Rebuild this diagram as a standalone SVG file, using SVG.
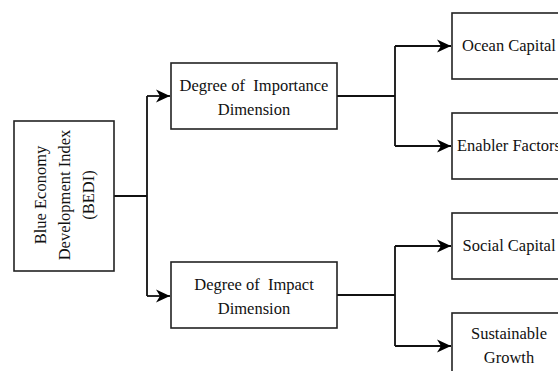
<svg xmlns="http://www.w3.org/2000/svg" width="558" height="371" viewBox="0 0 558 371">
<style>
.box{fill:#fff;stroke:#222;stroke-width:1.6}
.t{font-family:"Liberation Serif","Times New Roman",serif;font-size:16.5px;fill:#111;text-anchor:middle;white-space:pre}
.c{fill:none;stroke:#111;stroke-width:1.8}
</style>
<defs>
<marker id="ah" markerUnits="userSpaceOnUse" markerWidth="15" markerHeight="15" refX="14" refY="7.5" orient="auto">
<path d="M0,1 L14,7.5 L0,14 L4,7.5 z" fill="#000"/>
</marker>
</defs>
<g id="connectors">
<path class="c" d="M114,196 H147 M147,96 V296"/>
<path class="c" d="M147,96 H170" marker-end="url(#ah)"/>
<path class="c" d="M147,296 H170" marker-end="url(#ah)"/>
<path class="c" d="M337,96 H395 M395,46 V146"/>
<path class="c" d="M395,46 H451" marker-end="url(#ah)"/>
<path class="c" d="M395,146 H451" marker-end="url(#ah)"/>
<path class="c" d="M337,295 H395 M395,246 V346"/>
<path class="c" d="M395,246 H451" marker-end="url(#ah)"/>
<path class="c" d="M395,346 H451" marker-end="url(#ah)"/>
</g>
<g id="bedi">
<rect class="box" x="14" y="121" width="100" height="150"/>
<text class="t" transform="translate(46,195) rotate(-90)">Blue Economy</text>
<text class="t" transform="translate(70,195) rotate(-90)">Development Index</text>
<text class="t" transform="translate(94,195) rotate(-90)">(BEDI)</text>
</g>
<g id="importance">
<rect class="box" x="171" y="63" width="166" height="66"/>
<text class="t" x="254" y="91">Degree of  Importance</text>
<text class="t" x="254" y="115">Dimension</text>
</g>
<g id="impact">
<rect class="box" x="171" y="262" width="166" height="66"/>
<text class="t" x="254" y="290">Degree of  Impact</text>
<text class="t" x="254" y="314">Dimension</text>
</g>
<g id="ocean">
<rect class="box" x="452" y="13" width="114" height="66"/>
<text class="t" x="509" y="51">Ocean Capital</text>
</g>
<g id="enabler">
<rect class="box" x="452" y="113" width="114" height="66"/>
<text class="t" x="509" y="151">Enabler Factors</text>
</g>
<g id="social">
<rect class="box" x="452" y="213" width="114" height="66"/>
<text class="t" x="509" y="251">Social Capital</text>
</g>
<g id="sustainable">
<rect class="box" x="452" y="313" width="114" height="66"/>
<text class="t" x="509" y="339">Sustainable</text>
<text class="t" x="509" y="363">Growth</text>
</g>
</svg>
